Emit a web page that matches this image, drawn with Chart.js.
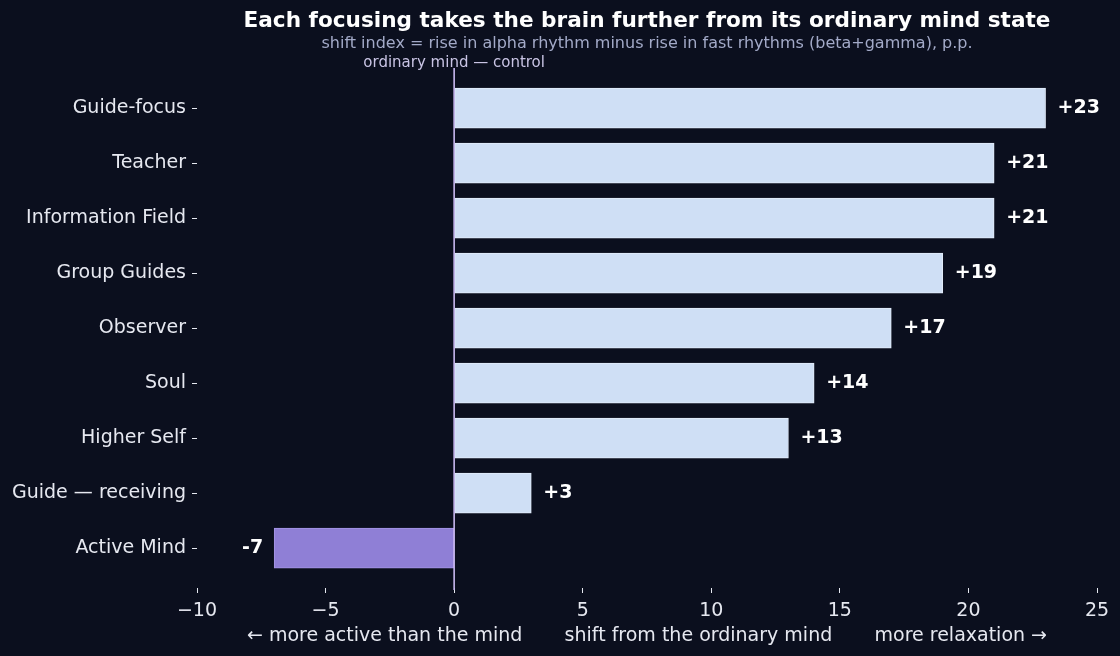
<!DOCTYPE html>
<html><head><meta charset="utf-8">
<script src="https://cdn.jsdelivr.net/npm/chart.js@4/dist/chart.umd.min.js"></script>
<style>html,body{margin:0;padding:0;background:#0b0f1e;}#wrap{width:1120px;height:656px;}</style>
</head><body><div id="wrap"><canvas id="c" width="1120" height="656"></canvas></div>
<script>
const categories = ["Guide-focus","Teacher","Information Field","Group Guides","Observer","Soul","Higher Self","Guide — receiving","Active Mind"];
const shiftValues = [23,21,21,19,17,14,13,3,-7];
const xTicks = [-10,-5,0,5,10,15,20,25];
const titleText = "Each focusing takes the brain further from its ordinary mind state";
const subtitleText = "shift index = rise in alpha rhythm minus rise in fast rhythms (beta+gamma), p.p.";
const zeroLabel = "ordinary mind — control";
const xAxisLabel = "← more active than the mind       shift from the ordinary mind       more relaxation →";

const FONT = "'DejaVu Sans', sans-serif";
const BG = "#0b0f1e";

const overlay = {
  id: 'overlay',
  beforeDraw(chart) {
    const ctx = chart.ctx;
    ctx.save(); ctx.fillStyle = BG; ctx.fillRect(0,0,chart.width,chart.height); ctx.restore();
  },
  afterDatasetsDraw(chart) {
    const ctx = chart.ctx, xs = chart.scales.x, ca = chart.chartArea;
    const x0 = xs.getPixelForValue(0);
    ctx.save();
    ctx.strokeStyle = "#c8b8f0"; ctx.lineWidth = 1.6;
    ctx.beginPath(); ctx.moveTo(x0, ca.top + 2); ctx.lineTo(x0, ca.bottom + 2); ctx.stroke();
    ctx.fillStyle = "#c9c4e4"; ctx.font = "15px " + FONT; ctx.textAlign = "center"; ctx.textBaseline = "middle";
    ctx.fillText(zeroLabel, x0, 63);
    ctx.font = "bold 19px " + FONT; ctx.fillStyle = "#ffffff";
    const meta = chart.getDatasetMeta(0);
    meta.data.forEach((bar, i) => {
      const v = shiftValues[i];
      const t = v > 0 ? "+" + v : String(v);
      if (v >= 0) { ctx.textAlign = "left"; ctx.fillText(t, bar.x + 12, bar.y); }
      else { ctx.textAlign = "right"; ctx.fillText(t, bar.x - 11, bar.y); }
    });
    const cx = (ca.left + ca.right) / 2;
    ctx.textAlign = "center";
    ctx.fillStyle = "#ffffff"; ctx.font = "bold 21.6px " + FONT;
    ctx.fillText(titleText, cx, 21);
    ctx.fillStyle = "#a3aac8"; ctx.font = "16px " + FONT;
    ctx.fillText(subtitleText, cx, 44);
    ctx.restore();
  }
};

new Chart(document.getElementById('c'), {
  type: 'bar',
  data: {
    datasets: [{
      data: shiftValues.map((v, i) => ({x: v, y: i})),
      backgroundColor: shiftValues.map(v => v < 0 ? "#8f7fd6" : "#cfdff5"),
      borderColor: shiftValues.map(v => v < 0 ? "#a596e6" : "#e2ecfa"),
      borderWidth: 1,
      borderSkipped: false,
      barThickness: 40
    }]
  },
  options: {
    indexAxis: 'y',
    responsive: false,
    animation: false,
    devicePixelRatio: 1,
    layout: { padding: { top: 66, right: 23, left: 0, bottom: 0 } },
    plugins: { legend: { display: false }, tooltip: { enabled: false }, title: { display: false } },
    scales: {
      x: {
        type: 'linear', min: -10, max: 25,
        afterBuildTicks: (s) => { s.ticks = xTicks.map(v => ({value: v})); },
        afterFit: (s) => { s.height = 68; },
        grid: { drawOnChartArea: false, color: "#e6e8f0", tickLength: 5, tickWidth: 1 },
        border: { display: false },
        ticks: {
          color: "#e6e8f0", font: { family: FONT, size: 19 }, padding: 7,
          callback: (v) => v < 0 ? "\u2212" + Math.abs(v) : String(v)
        },
        title: { display: true, text: xAxisLabel, color: "#e6e8f0", font: { family: FONT, size: 19 }, padding: { top: 4, bottom: 9 } }
      },
      y: {
        type: 'linear', reverse: true, min: -0.765, max: 8.725, offset: false,
        afterBuildTicks: (s) => { s.ticks = categories.map((_, i) => ({value: i})); },
        afterFit: (s) => { s.width = 197; },
        grid: { drawOnChartArea: false, offset: false, color: "#e6e8f0", tickLength: 5, tickWidth: 1 },
        border: { display: false },
        ticks: {
          color: "#e6e8f0", font: { family: FONT, size: 19 }, padding: 6,
          callback: (v) => categories[v]
        }
      }
    }
  },
  plugins: [overlay]
});
</script></body></html>
